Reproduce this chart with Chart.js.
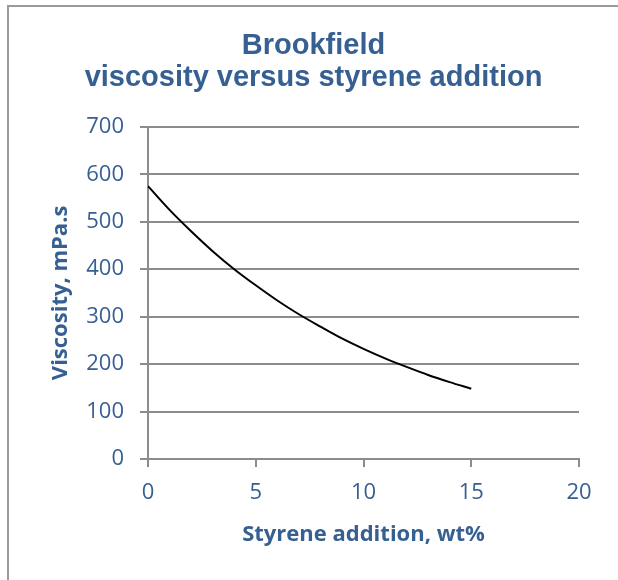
<!DOCTYPE html>
<html>
<head>
<meta charset="utf-8">
<script src="https://cdn.jsdelivr.net/npm/chart.js@4"></script>
<style>
  html, body { margin: 0; padding: 0; background: #ffffff; }
  #wrap { width: 618px; height: 580px; }
</style>
</head>
<body>
<div id="wrap"><canvas id="viscChart" width="618" height="580"></canvas></div>
<script>
// styrene addition (wt%) and Brookfield viscosity (mPa.s)
var styrene = [0, 1, 2, 3, 4, 5, 6, 7, 8, 9, 10, 11, 12, 13, 14, 15];
var viscosity = [575, 525, 480, 438, 400, 366, 334, 305, 279, 254, 232, 212, 194, 177, 162, 148];
var titleLines = ['Brookfield', 'viscosity versus styrene addition'];
var xTitle = 'Styrene addition, wt%';
var yTitle = 'Viscosity, mPa.s';

var blue = '#376092';
var gridGray = '#8c8c8c';

// grey frame on the left and top like the original image crop
var framePlugin = {
    id: 'frame',
    afterDraw: function(chart) {
        var c = chart.ctx;
        c.save();
        c.strokeStyle = '#9a9a9a';
        c.lineWidth = 2;
        c.beginPath();
        c.moveTo(8, 580);
        c.lineTo(8, 6);
        c.lineTo(618, 6);
        c.stroke();
        c.restore();
    }
};

var points = styrene.map(function(x, i) { return {x: x, y: viscosity[i]}; });

var ctx = document.getElementById('viscChart').getContext('2d');
var myChart = new Chart(ctx, {
    type: 'scatter',
    data: {
        datasets: [{
            label: 'Viscosity',
            data: points,
            showLine: true,
            borderColor: '#000000',
            borderWidth: 2,
            pointRadius: 0,
            cubicInterpolationMode: 'monotone',
            fill: false
        }]
    },
    options: {
        responsive: false,
        animation: false,
        layout: { padding: { left: 48, right: 39, top: 0, bottom: 0 } },
        plugins: {
            legend: { display: false },
            tooltip: { enabled: false },
            title: {
                display: true,
                text: titleLines,
                color: blue,
                font: { family: '"Liberation Sans", Arial, sans-serif', size: 29, weight: 'bold', lineHeight: 1.1 },
                padding: { top: 30, bottom: 33 }
            }
        },
        scales: {
            x: {
                type: 'linear',
                min: 0,
                max: 20,
                afterFit: function(s) { s.height = 121; },
                ticks: {
                    stepSize: 5,
                    color: blue,
                    padding: 13,
                    font: { family: '"Open Sans", sans-serif', size: 22 }
                },
                grid: { display: true, drawOnChartArea: false, drawTicks: true, tickLength: 8, color: gridGray, lineWidth: 2 },
                border: { color: gridGray, width: 2 },
                title: {
                    display: true,
                    text: xTitle,
                    color: blue,
                    font: { family: '"Open Sans", sans-serif', size: 22, weight: 'bold', lineHeight: 1.2 },
                    padding: { top: 0, bottom: 32 }
                }
            },
            y: {
                min: 0,
                max: 700,
                afterFit: function(s) { s.width = 100; },
                ticks: {
                    stepSize: 100,
                    color: blue,
                    padding: 16,
                    font: { family: '"Open Sans", sans-serif', size: 22 }
                },
                grid: { color: gridGray, lineWidth: 2, tickLength: 8 },
                border: { color: gridGray, width: 2 },
                title: {
                    display: true,
                    text: yTitle,
                    color: blue,
                    font: { family: '"Open Sans", sans-serif', size: 22, weight: 'bold', lineHeight: 1.2 },
                    padding: { top: 0, bottom: 0 }
                }
            }
        }
    },
    plugins: [framePlugin]
});
</script>
</body>
</html>
